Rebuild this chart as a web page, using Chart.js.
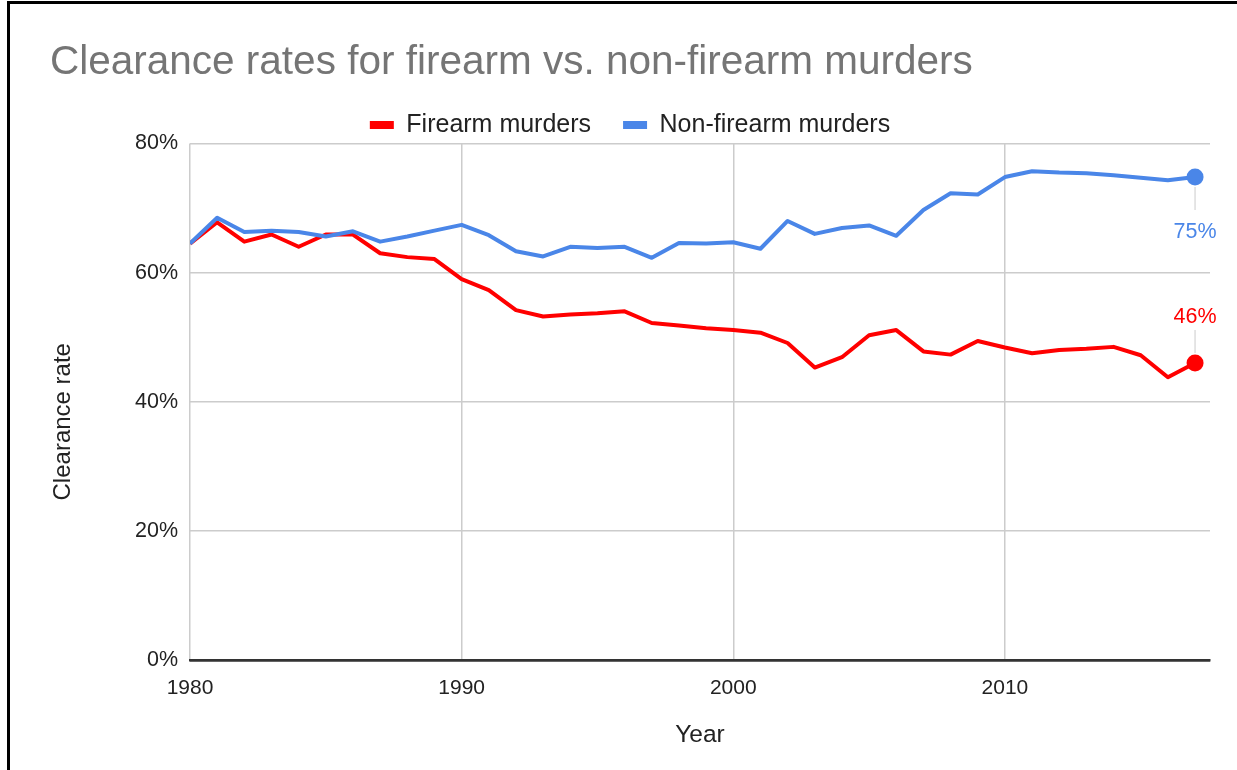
<!DOCTYPE html>
<html>
<head>
<meta charset="utf-8">
<title>Clearance rates for firearm vs. non-firearm murders</title>
<script src="https://cdn.jsdelivr.net/npm/chart.js@4.4.1/dist/chart.umd.min.js"></script>
<style>
  html, body { margin: 0; padding: 0; background: #ffffff; overflow: hidden; width: 1237px; height: 770px; }
  #wrap { position: relative; width: 1237px; height: 770px; }
  #c { position: absolute; left: 0; top: 0; }
  #frame { position: absolute; left: 7px; top: 1px; width: 1300px; height: 820px;
           border-left: 3px solid #000; border-top: 3px solid #000; pointer-events: none; }
</style>
</head>
<body>
<div id="wrap">
  <canvas id="c" width="1237" height="770"></canvas>
  <div id="frame"></div>
</div>
<script>
// ---- data ----
const chartTitle = "Clearance rates for firearm vs. non-firearm murders";
const seriesNames = ["Firearm murders", "Non-firearm murders"];
const years = [1980, 1981, 1982, 1983, 1984, 1985, 1986, 1987, 1988, 1989,
               1990, 1991, 1992, 1993, 1994, 1995, 1996, 1997, 1998, 1999,
               2000, 2001, 2002, 2003, 2004, 2005, 2006, 2007, 2008, 2009,
               2010, 2011, 2012, 2013, 2014, 2015, 2016, 2017];
const firearmRates = [64.5, 67.8, 64.8, 65.9, 64.0, 65.9, 65.9, 63.0, 62.4, 62.1,
                      59.0, 57.3, 54.2, 53.2, 53.5, 53.7, 54.0, 52.2, 51.8, 51.4,
                      51.1, 50.7, 49.1, 45.3, 46.9, 50.3, 51.1, 47.8, 47.3, 49.4,
                      48.4, 47.5, 48.0, 48.2, 48.5, 47.2, 43.8, 46.0];
const nonFirearmRates = [64.5, 68.5, 66.3, 66.5, 66.3, 65.6, 66.4, 64.8, 65.6, 66.5,
                         67.4, 65.8, 63.3, 62.5, 64.0, 63.8, 64.0, 62.3, 64.6, 64.5,
                         64.7, 63.7, 68.0, 66.0, 66.9, 67.3, 65.7, 69.7, 72.3, 72.1,
                         74.8, 75.7, 75.5, 75.4, 75.1, 74.7, 74.3, 74.8];
const xTickValues = [1980, 1990, 2000, 2010];
const yTickValues = [0, 20, 40, 60, 80];
const xAxisTitle = "Year";
const yAxisTitle = "Clearance rate";

// ---- styling ----
const RED = "#ff0000";
const BLUE = "#4a86e8";
const FONT = "'Liberation Sans', Arial, Helvetica, sans-serif";
Chart.defaults.font.family = FONT;
Chart.defaults.color = "#222222";

const toPoints = (vals) => years.map((yr, i) => ({ x: yr, y: vals[i] }));

// Fix legend height so the plot area lands where the reference has it
const legendFix = {
  id: 'legendFix',
  beforeLayout(chart) {
    const lg = chart.legend;
    if (lg && !lg.__fixed) {
      const orig = lg.fit;
      lg.fit = function () { orig.call(this); this.height = 63; };
      lg.__fixed = true;
    }
  }
};

// End-of-series value labels with leader lines
const endLabels = {
  id: 'endLabels',
  afterDatasetsDraw(chart) {
    const ctx = chart.ctx;
    chart.data.datasets.forEach((ds, i) => {
      const meta = chart.getDatasetMeta(i);
      if (!meta.data.length) return;
      const el = meta.data[meta.data.length - 1];
      const val = ds.data[ds.data.length - 1].y;
      const below = ds.labelSide === 'below';
      ctx.save();
      ctx.strokeStyle = '#dddddd';
      ctx.lineWidth = 1.5;
      ctx.beginPath();
      if (below) { ctx.moveTo(el.x, el.y + 10); ctx.lineTo(el.x, el.y + 33); }
      else { ctx.moveTo(el.x, el.y - 10); ctx.lineTo(el.x, el.y - 33); }
      ctx.stroke();
      ctx.fillStyle = ds.borderColor;
      ctx.font = "21.5px " + FONT;
      ctx.textAlign = 'center';
      ctx.textBaseline = 'middle';
      ctx.fillText(Math.round(val) + '%', el.x, below ? el.y + 55 : el.y - 46);
      ctx.restore();
    });
  }
};

const lastIdx = years.length - 1;
const pointR = (c) => (c.dataIndex === lastIdx ? 8.5 : 0);

new Chart(document.getElementById('c'), {
  type: 'line',
  data: {
    datasets: [
      {
        label: seriesNames[0],
        data: toPoints(firearmRates),
        borderColor: RED,
        backgroundColor: RED,
        borderWidth: 4,
        tension: 0,
        borderJoinStyle: 'round',
        pointRadius: pointR,
        pointHoverRadius: pointR,
        pointBackgroundColor: RED,
        pointBorderWidth: 0,
        order: 1,
        labelSide: 'above'
      },
      {
        label: seriesNames[1],
        data: toPoints(nonFirearmRates),
        borderColor: BLUE,
        backgroundColor: BLUE,
        borderWidth: 4,
        tension: 0,
        borderJoinStyle: 'round',
        pointRadius: pointR,
        pointHoverRadius: pointR,
        pointBackgroundColor: BLUE,
        pointBorderWidth: 0,
        order: 0,
        labelSide: 'below'
      }
    ]
  },
  options: {
    responsive: false,
    animation: false,
    devicePixelRatio: 1,
    layout: { padding: { left: 50, right: 27, top: 20, bottom: 10 } },
    plugins: {
      tooltip: { enabled: false },
      title: {
        display: true,
        text: chartTitle,
        align: 'start',
        color: '#757575',
        font: { size: 40.5, lineHeight: 1, family: FONT, weight: 'normal' },
        padding: { top: 23, bottom: -3 }
      },
      legend: {
        display: true,
        position: 'top',
        align: 'center',
        labels: {
          boxWidth: 24,
          boxHeight: 8,
          padding: 32,
          color: '#222222',
          font: { size: 25, family: FONT },
          generateLabels(chart) {
            const items = Chart.defaults.plugins.legend.labels.generateLabels(chart);
            items.forEach(it => { it.lineWidth = 0; it.strokeStyle = it.fillStyle; });
            return items.sort((a, b) => a.datasetIndex - b.datasetIndex);
          }
        }
      }
    },
    scales: {
      x: {
        type: 'linear',
        min: 1980,
        max: 2017.55,
        afterBuildTicks(scale) { scale.ticks = xTickValues.map(v => ({ value: v })); },
        afterFit(scale) { scale.height = 100; },
        ticks: {
          padding: 16,
          color: '#222222',
          font: { size: 21, family: FONT },
          maxRotation: 0,
          callback: (v) => String(v)
        },
        grid: { color: '#cccccc', lineWidth: 1.5, drawTicks: false },
        border: { display: true, color: '#333333', width: 2.5 },
        title: {
          display: true,
          text: xAxisTitle,
          color: '#222222',
          font: { size: 24.5, lineHeight: 1, family: FONT },
          padding: { top: 0, bottom: 13 }
        }
      },
      y: {
        min: 0,
        max: 80,
        afterBuildTicks(scale) { scale.ticks = yTickValues.map(v => ({ value: v })); },
        afterFit(scale) { scale.width = 140; },
        ticks: {
          padding: 12,
          color: '#222222',
          font: { size: 21.5, family: FONT },
          callback: (v) => v + '%'
        },
        grid: {
          color: (c) => (c.tick && c.tick.value === 0 ? '#333333' : '#cccccc'),
          lineWidth: (c) => (c.tick && c.tick.value === 0 ? 2.5 : 1.5),
          drawTicks: false
        },
        border: { display: false },
        title: {
          display: true,
          text: yAxisTitle + '      ',
          color: '#222222',
          font: { size: 24, lineHeight: 1, family: FONT },
          padding: { top: 1, bottom: 0 }
        }
      }
    }
  },
  plugins: [legendFix, endLabels]
});
</script>
</body>
</html>
